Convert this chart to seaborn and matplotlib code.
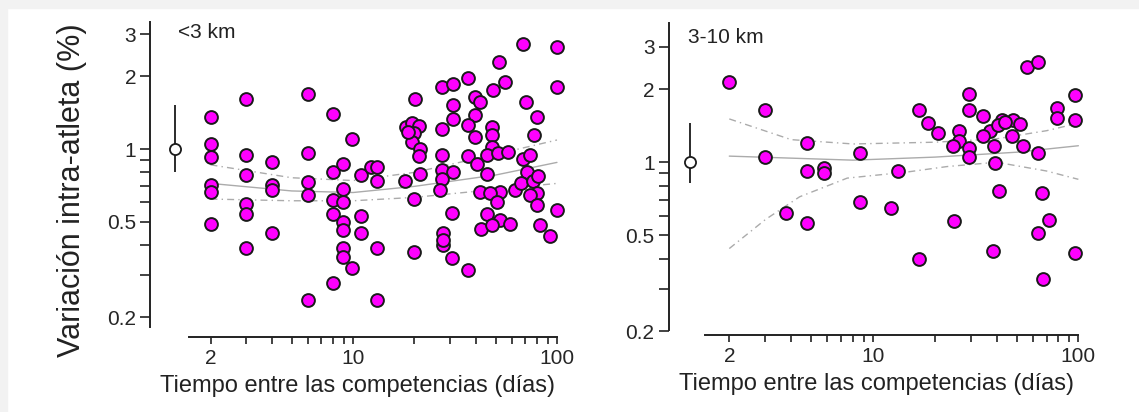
import numpy as np
import pandas as pd
import matplotlib
matplotlib.use("Agg")
import matplotlib.pyplot as plt
import seaborn as sns
from matplotlib.ticker import FixedLocator, NullLocator, FixedFormatter

sns.set_style("white")
plt.rcParams['font.family'] = ['Liberation Sans', 'DejaVu Sans']

# ---- data ----
# <3 km panel: days between races, intra-athlete variation (%)
short_x = [2, 2, 2, 2, 2, 2,
           3, 3, 3, 3, 3, 3,
           4, 4, 4, 4,
           6, 6, 6, 6, 6,
           7.95, 8.0, 8.96, 8.9, 8.0, 8.96, 8.0, 8.9, 8.9, 8.9, 8.9, 9.92, 8.0, 9.92,
           11, 11, 11, 12.3, 13.1, 13.1, 13.1, 13.1,
           18, 20.1, 18.2, 19.5, 21, 20, 19.5, 21.3, 21, 21.3, 20, 20, 18.5,
           27.2, 30.8, 30.8, 30.8, 27.2, 27.2, 27.2, 30.8, 27.2, 26.7, 30.4, 27.5, 27.5, 30.4, 27.5,
           36.7, 39.6, 41.9, 39.6, 36.7, 39.6, 36.7, 40.4, 41.9, 42.3, 36.7,
           52.2, 55.5, 48.4, 47.8, 47.8, 47.8, 45.3, 51.6, 57.6, 45.3, 52.5, 47, 62, 50.6, 45.3, 52.5, 58.9, 47.8,
           68.4, 70.5, 68.4, 73.6, 71.2, 67, 76, 80.9, 80, 73.6, 80, 82.5, 92, 80, 77.5, 100, 100, 100]
short_y = [1.36, 1.05, 0.93, 0.71, 0.665, 0.49,
           1.61, 0.94, 0.78, 0.59, 0.54, 0.39,
           0.88, 0.71, 0.676, 0.45,
           1.69, 0.965, 0.73, 0.645, 0.236,
           1.40, 0.80, 0.87, 0.68, 0.614, 0.605, 0.54, 0.50, 0.46, 0.387, 0.357, 0.32, 0.277, 1.10,
           0.527, 0.45, 0.78, 0.845, 0.845, 0.74, 0.387, 0.236,
           0.74, 1.61, 1.23, 1.28, 1.25, 1.16, 1.07, 1.0, 0.935, 0.79, 0.62, 0.375, 1.18,
           1.81, 1.87, 1.52, 1.33, 1.21, 0.945, 0.82, 0.80, 0.75, 0.675, 0.545, 0.447, 0.40, 0.352, 0.42,
           1.98, 1.65, 1.57, 1.38, 1.26, 1.12, 0.935, 0.866, 0.665, 0.465, 0.315,
           2.30, 1.90, 1.76, 1.24, 1.14, 1.02, 0.945, 0.96, 0.975, 0.79, 0.665, 0.655, 0.675, 0.605, 0.54, 0.507, 0.49, 0.485,
           2.73, 1.57, 0.905, 0.945, 0.805, 0.72, 0.74, 0.77, 0.655, 0.645, 0.585, 0.485, 0.435, 1.36, 1.14, 2.66, 1.81, 0.56]

# 3-10 km panel
mid_x = [2, 3, 3, 4.8, 4.8, 5.8, 5.8, 3.78, 4.8, 8.65, 8.65, 12.2, 13.3, 16.8, 16.8, 18.6, 20.8,
         56.4, 63.8, 29.5, 29.5, 34.2, 42.3, 48.2, 52, 37.1, 34.5, 47.3, 26.3, 26.3, 24.6, 29.5, 29.5,
         38.8, 53.9, 63.3, 39.3, 41.3, 24.8, 38.3, 66.3, 72, 63.8, 67, 79, 79, 96, 96, 96, 40.5, 44]
mid_y = [2.15, 1.64, 1.05, 1.20, 0.92, 0.95, 0.90, 0.615, 0.56, 1.09, 0.687, 0.645, 0.923, 0.40, 1.64, 1.45, 1.32,
         2.48, 2.60, 1.92, 1.64, 1.55, 1.50, 1.50, 1.44, 1.34, 1.28, 1.28, 1.34, 1.22, 1.17, 1.14, 1.05,
         1.17, 1.17, 1.09, 0.99, 0.763, 0.574, 0.431, 0.745, 0.58, 0.51, 0.33, 1.67, 1.52, 1.90, 1.50, 0.42, 1.43, 1.47]

# fitted trend and limits
short_fit_x = [2, 5, 10, 20, 50, 100]
short_fit = [0.72, 0.67, 0.66, 0.70, 0.78, 0.88]
short_hi = [0.86, 0.76, 0.74, 0.80, 0.95, 1.09]
short_lo = [0.62, 0.61, 0.61, 0.63, 0.68, 0.72]

mid_hi_x = [2, 4, 8, 20, 40, 70, 100]
mid_hi = [1.51, 1.24, 1.19, 1.21, 1.25, 1.35, 1.45]
mid_fit_x = [2, 8, 20, 50, 100]
mid_fit = [1.06, 1.02, 1.05, 1.10, 1.17]
mid_lo_x = [2, 3, 4.4, 7.5, 14.5, 23, 40, 70, 100]
mid_lo = [0.44, 0.58, 0.72, 0.86, 0.91, 0.96, 1.0, 0.92, 0.85]

# overall mean with error bar (open circle)
short_mean = (1.34, 1.0, 0.80, 1.52)
mid_mean = (1.29, 1.0, 0.82, 1.45)

dash = (0, (5, 3, 1, 3))
panels = [
    dict(name='<3 km', x=short_x, y=short_y, mean=short_mean,
         lines=[(short_fit_x, short_hi, dash), (short_fit_x, short_fit, '-'), (short_fit_x, short_lo, dash)],
         pos=[150 / 1139, 75 / 412, 415 / 1139, 317 / 412],
         xlim=(1.01, 109.5), ylim=(0.166, 3.43), ybounds=(0.183, 3.38), xbounds=(1.57, 100),
         label_xy=(1.38, 3.03)),
    dict(name='3-10 km', x=mid_x, y=mid_y, mean=mid_mean,
         lines=[(mid_hi_x, mid_hi, dash), (mid_fit_x, mid_fit, '-'), (mid_lo_x, mid_lo, dash)],
         pos=[668.5 / 1139, 77 / 412, 416.5 / 1139, 315 / 412],
         xlim=(1.012, 107.7), ylim=(0.1933, 3.87), ybounds=(0.203, 3.75), xbounds=(1.52, 100),
         label_xy=(1.26, 3.29)),
]

fig = plt.figure(figsize=(11.39, 4.12), dpi=100)
fig.patch.set_facecolor('white')
# light gray frame strips (top and left)
fig.patches.append(plt.Rectangle((0, 1 - 8 / 412), 1, 8 / 412, transform=fig.transFigure,
                                 color='#f2f2f2', zorder=-10))
fig.patches.append(plt.Rectangle((0, 0), 7 / 1139, 1, transform=fig.transFigure,
                                 color='#f2f2f2', zorder=-10))

xticks = [2, 3, 4, 5, 6, 7, 8, 9, 10, 20, 30, 40, 50, 60, 70, 80, 90, 100]
xlabels = ['2', '', '', '', '', '', '', '', '10', '', '', '', '', '', '', '', '', '100']
yticks = [0.2, 0.3, 0.4, 0.5, 0.6, 0.7, 0.8, 0.9, 1, 2, 3]
ylabels = ['0.2', '', '', '0.5', '', '', '', '', '1', '2', '3']

for i, p in enumerate(panels):
    ax = fig.add_axes(p['pos'])
    ax.set_facecolor('none')
    ax.set_xscale('log')
    ax.set_yscale('log')

    for lx, ly, ls in p['lines']:
        ax.plot(lx, ly, color='#ababab', lw=1.0, ls=ls, zorder=1)

    df = pd.DataFrame({'dias': p['x'], 'var': p['y']})
    sns.scatterplot(data=df, x='dias', y='var', ax=ax, s=85, color='#ff00ff',
                    edgecolor='#1a1a1a', linewidth=1.4, zorder=3, legend=False)

    mx, my, lo, hi = p['mean']
    ax.errorbar([mx], [my], yerr=[[my - lo], [hi - my]], fmt='o', mfc='white', mec='#1a1a1a',
                ms=8, mew=1.3, ecolor='#1a1a1a', elinewidth=1.3, capsize=0, zorder=4)

    ax.set_xlim(*p['xlim'])
    ax.set_ylim(*p['ylim'])
    ax.xaxis.set_major_locator(FixedLocator(xticks))
    ax.xaxis.set_major_formatter(FixedFormatter(xlabels))
    ax.xaxis.set_minor_locator(NullLocator())
    ax.yaxis.set_major_locator(FixedLocator(yticks))
    ax.yaxis.set_major_formatter(FixedFormatter(ylabels))
    ax.yaxis.set_minor_locator(NullLocator())
    ax.tick_params(axis='x', direction='out', length=5, width=1.2, color='#222222',
                   labelsize=15, pad=4, bottom=True)
    ax.tick_params(axis='y', direction='out', length=7, width=1.2, color='#222222',
                   labelsize=15, pad=3, left=True)

    for side in ['top', 'right']:
        ax.spines[side].set_visible(False)
    ax.spines['left'].set_bounds(*p['ybounds'])
    ax.spines['bottom'].set_bounds(*p['xbounds'])
    for side in ['left', 'bottom']:
        ax.spines[side].set_linewidth(1.4)
        ax.spines[side].set_color('#222222')

    ax.text(p['label_xy'][0], p['label_xy'][1], p['name'], fontsize=15, ha='left', va='center',
            color='#222222')
    ax.set_xlabel('Tiempo entre las competencias (días)', fontsize=17, color='#222222', labelpad=5)
    ax.set_ylabel('')

fig.text(72 / 1139, 1 - 190 / 412, 'Variación intra-atleta (%)', rotation=90, fontsize=22,
         ha='center', va='center', color='#222222')

fig.savefig('out.png', dpi=100)
